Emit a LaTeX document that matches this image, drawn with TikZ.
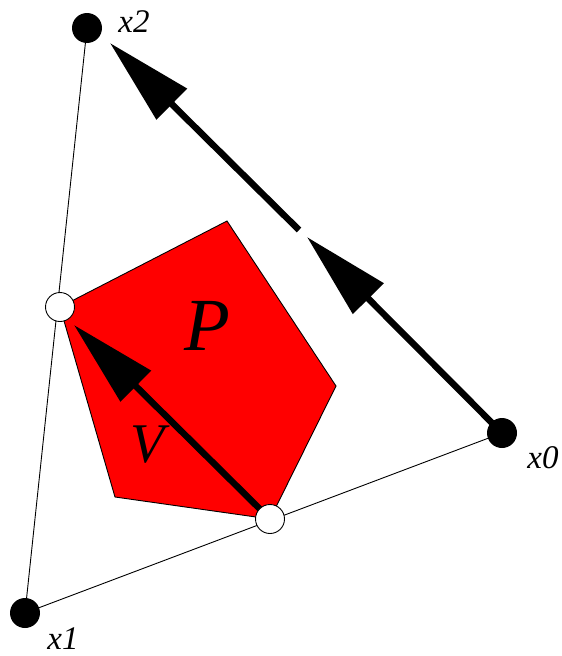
\documentclass[tikz,border=0pt]{standalone}
\usepackage{fontspec}
\setmainfont{Liberation Serif}
\usetikzlibrary{arrows.meta}
\tikzset{
  dot/.style    = {circle, fill=black, minimum size=30pt, inner sep=0},
  hole/.style   = {circle, draw, line width=0.9pt, fill=white, minimum size=29pt, inner sep=0},
  edge/.style   = {line width=0.9pt},
  vec/.style    = {line width=6.5pt, -{Triangle[length=87pt, width=42pt]}},
  et/.style     = {font=\fontsize{33}{33}\selectfont\itshape},
  big/.style    = {font=\fontsize{75}{75}\selectfont\itshape}
}
\begin{document}
\begin{tikzpicture}[x=1pt, y=-1pt]
  \useasboundingbox (0,0) rectangle (562,656);
  % vertici del simplesso e punti sui lati
  \coordinate (x0) at (502,433);
  \coordinate (x1) at (25,613);
  \coordinate (x2) at (87,28);
  \coordinate (a) at (60,307);
  \coordinate (b) at (270,519);
  \draw[edge] (x2)--(x1)--(x0);
  % poligono P
  \filldraw[fill=red, draw=black, line width=0.9pt] (a)--(227,221)--(336,386)--(b)--(115,497)--cycle;
  \node[big] (P) at (207,326) {P};
  % vettori
  \coordinate (m) at (307,237); \coordinate (g) at (299,230); \coordinate (t) at (110,43);
  \draw[vec] (x0)--(m);
  \draw[vec] (g)--(t);
  \draw[vec] (b)--(74,325) coordinate (v);
  \node[font=\fontsize{56}{56}\selectfont\itshape] (V) at (148,445) {V};
  % punti
  \node[dot] (p0) at (x0){}; \node[et] (l0) at (543,458) {x0};
  \node[dot] (p1) at (x1){}; \node[et] (l1) at (63,639) {x1};
  \node[dot] (p2) at (x2){}; \node[et] (l2) at (134,22) {x2};
  \node[hole] (qa) at (a){};
  \node[hole] (qb) at (b){};
\end{tikzpicture}
\end{document}
